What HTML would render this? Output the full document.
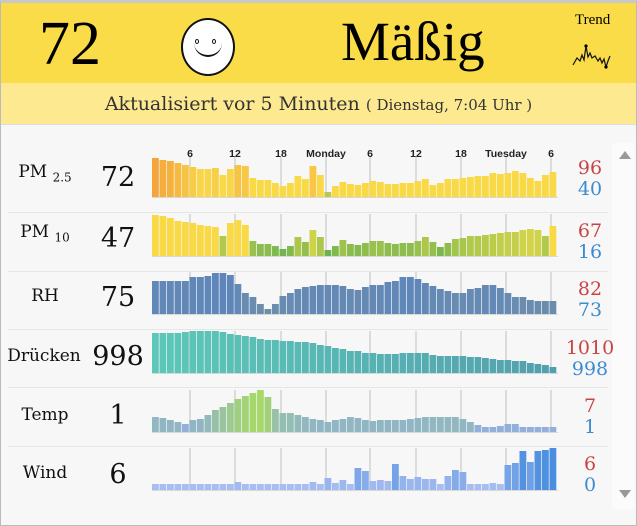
<!DOCTYPE html>
<html><head><meta charset="utf-8"><style>
*{margin:0;padding:0;box-sizing:border-box}
body{width:637px;height:526px;background:#fff;overflow:hidden;font-family:"DejaVu Serif","Liberation Serif",serif;position:relative}
#wrap{position:absolute;left:0;top:0;width:637px;height:526px;border:1px solid #bbb;border-top:3px solid #c8c8c8;background:#f7f7f7}
#hdr{position:absolute;left:0;top:0;width:635px;height:80px;background:#f9dc48}
#sub{position:absolute;left:0;top:80px;width:635px;height:42px;background:#fde990;border-bottom:1px solid #ddd;text-align:center;font-size:19px;line-height:42px;color:#333}
.abs{position:absolute}
.lab{position:absolute;left:0;width:90px;text-align:center;font-size:17px;color:#111}
.val{position:absolute;left:80px;width:76px;text-align:center;font-size:27px;color:#111}
.mx{position:absolute;left:560px;width:60px;text-align:center;font-size:19px;line-height:21px}
.r{color:#c84444}.b{color:#3b8bd0}
</style></head><body>
<div id="wrap">
<div id="hdr">
 <div class="abs" style="left:38px;top:6px;font-size:62px;line-height:70px;font-family:'Liberation Serif',serif">72</div>
 <div class="abs" style="left:180px;top:15px;width:54px;height:58px;border:2px solid #111;border-radius:50%;background:#fff"></div>
 <div class="abs" style="left:194px;top:36px;width:4px;height:5px;border:1.5px solid #111;border-radius:50%"></div>
 <div class="abs" style="left:211px;top:36px;width:4px;height:5px;border:1.5px solid #111;border-radius:50%"></div>
 <div class="abs" style="left:193px;top:38px;width:28px;height:16px;border-bottom:2px solid #111;border-radius:0 0 14px 14px"></div>
 <div class="abs" style="left:340px;top:7px;font-size:55px;line-height:64px;font-family:'Liberation Serif',serif">Mäßig</div>
 <div class="abs" style="left:574px;top:9px;font-size:15px;font-family:'Liberation Serif',serif">Trend</div>
 <svg class="abs" style="left:570px;top:38px" width="40" height="30"><polyline fill="none" stroke="#111" stroke-width="1.2" points="2,24 6,17 9,20 11,14 13,19 15,5 17,16 19,12 21,17 24,15 27,20 29,17 31,22 33,18 35,26 37,20 39,15"/><circle cx="15" cy="5" r="1.6"/><circle cx="35" cy="26" r="1.6"/></svg>
</div>
<div id="sub">Aktualisiert vor 5 Minuten <span style="font-size:15px">( Dienstag, 7:04 Uhr )</span></div>
</div>
<svg id="ch" class="abs" style="left:0;top:0" width="637" height="526"></svg>
<div class="lab" style="top:162px">PM <sub style="font-size:12px">2.5</sub></div>
<div class="val" style="top:162px">72</div>
<div class="lab" style="top:222px">PM <sub style="font-size:12px">10</sub></div>
<div class="val" style="top:223px">47</div>
<div class="lab" style="top:286px">RH</div>
<div class="val" style="top:282px">75</div>
<div class="lab" style="left:0;width:88px;top:346px">Drücken</div>
<div class="val" style="top:341px">998</div>
<div class="lab" style="top:405px">Temp</div>
<div class="val" style="top:400px">1</div>
<div class="lab" style="top:463px">Wind</div>
<div class="val" style="top:459px">6</div>
<div class="mx" style="top:158px"><span class="r">96</span><br><span class="b">40</span></div>
<div class="mx" style="top:221px"><span class="r">67</span><br><span class="b">16</span></div>
<div class="mx" style="top:279px"><span class="r">82</span><br><span class="b">73</span></div>
<div class="mx" style="top:338px"><span class="r">1010</span><br><span class="b">998</span></div>
<div class="mx" style="top:396px"><span class="r">7</span><br><span class="b">1</span></div>
<div class="mx" style="top:454px"><span class="r">6</span><br><span class="b">0</span></div>
<script>
var s=document.getElementById('ch'),h='';
function R(x,y,w,hh,c){h+='<rect x="'+x+'" y="'+y+'" width="'+w+'" height="'+hh+'" fill="'+c+'"/>';}
function mix(a,b,t){t=Math.max(0,Math.min(1,t));var o='#';for(var i=0;i<3;i++){var v=Math.round(parseInt(a.substr(1+2*i,2),16)*(1-t)+parseInt(b.substr(1+2*i,2),16)*t);o+=('0'+v.toString(16)).slice(-2);}return o;}
[212,271,329,387,446].forEach(function(y){R(8,y,600,1,'#e6e6e6');});
R(612,143,22,366,'#fbfbfb');
h+='<polygon points="619,159 631,159 625,151" fill="#999"/><polygon points="619,490 631,490 625,498" fill="#999"/>';
var grid=[190,235,281,326,370,416,461,506,551];
var rows=[
 {b:197,t:157,d:[39,37,36,34,32,30,28,28,29,22,28,32,31,19,17,17,14,11,14,21,18,31,22,5,11,15,13,12,14,16,15,13,13,14,14,16,18,12,14,18,18,19,20,21,21,24,23,24,26,24,19,16,22,25],
  c:function(v,i){if(i==23)return '#b9c94c';if(v>26)return mix('#f9d94a','#f4a43a',(v-27)/12);return '#f9da46';}},
 {b:256,t:214,d:[41,40,38,35,34,33,31,30,29,20,33,36,31,15,12,12,10,7,10,19,14,26,19,6,10,16,12,11,13,15,15,13,12,13,13,15,19,14,9,13,17,18,20,20,21,22,23,24,24,26,27,26,20,30],
  c:function(v){return v>27?'#f9da46':mix('#6db24f','#d8d64a',(v-6)/22);}},
 {b:314,t:272,d:[33,33,33,33,33,37,37,38,41,41,39,30,21,17,10,5,10,18,21,25,27,28,29,29,29,28,25,24,27,29,29,32,33,37,37,35,31,28,25,23,21,21,25,26,29,29,26,21,17,17,14,13,13,13],
  c:function(v){return mix('#7090a8','#5f86bb',v/40);}},
 {b:373,t:331,d:[40,40,40,40,41,42,42,42,42,41,39,38,37,36,34,33,33,32,32,31,31,30,28,27,25,24,22,22,20,20,19,19,19,20,20,20,20,18,17,17,17,17,16,16,15,14,13,13,12,12,10,9,8,6],
  c:function(v,i){return mix('#5cc8b8','#52a0ae',i/53);}},
 {b:432,t:390,d:[15,14,12,10,8,12,13,17,22,25,29,33,36,39,42,35,23,19,19,17,15,13,12,10,12,13,15,14,12,11,12,12,12,12,13,14,15,15,15,15,15,13,10,7,5,5,6,8,8,5,5,5,5,5],
  c:function(v){return v<9?'#93b0dc':mix('#90b6c4','#a6d86a',(v-14)/26);}},
 {b:490,t:448,d:[6,6,6,6,6,6,6,6,6,6,6,8,6,6,6,6,6,6,6,6,6,8,6,12,7,10,6,22,19,9,10,9,26,14,11,13,11,11,6,14,20,18,6,6,6,7,6,25,27,39,28,39,40,42],
  c:function(v){return mix('#a8bdf0','#4a8ee0',(v-6)/36);}}
];
rows.forEach(function(r){
 grid.forEach(function(x){R(x-1,r.t,2,r.b-r.t,'#dcdcdc');});
 r.d.forEach(function(v,i){var x=152+i*7.5;R(x,r.b-v,6.8,v,r.c(v,i));});
 R(152,r.b,406,1,'#d8d8d8');
});
var labs=[[190,'6'],[235,'12'],[281,'18'],[326,'Monday'],[370,'6'],[416,'12'],[461,'18'],[506,'Tuesday'],[551,'6']];
labs.forEach(function(l){h+='<text x="'+l[0]+'" y="157" text-anchor="middle" font-family="Liberation Sans,sans-serif" font-size="10.5" font-weight="bold" fill="#222">'+l[1]+'</text>';});
s.innerHTML=h;
</script>
</body></html>
